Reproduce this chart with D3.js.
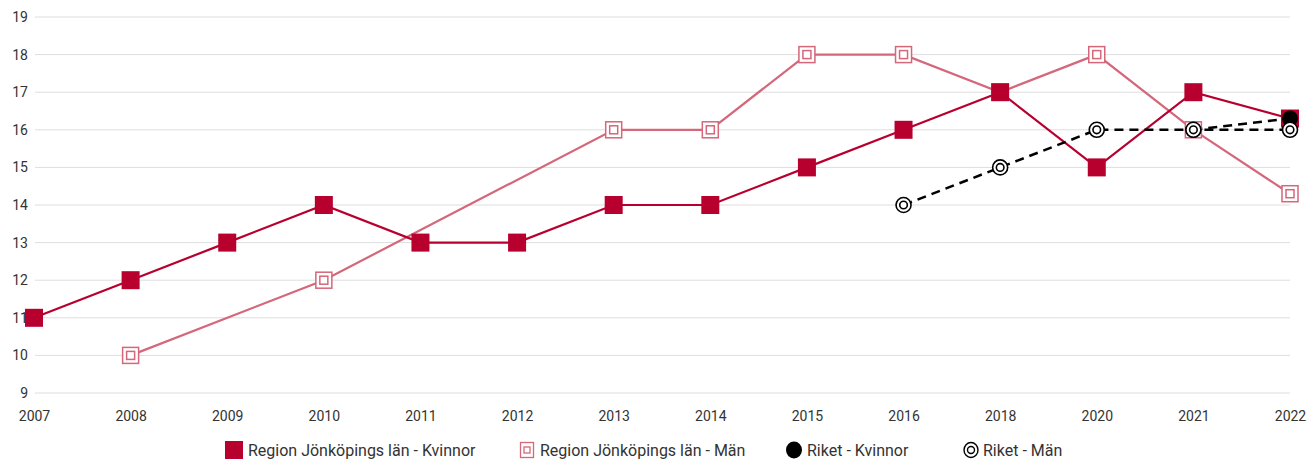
<!DOCTYPE html>
<html>
<head>
<meta charset="utf-8">
<script src="https://cdn.jsdelivr.net/npm/d3@7"></script>
<style>
  body { margin: 0; background: #fff; font-family: Roboto, sans-serif; }
  svg text { fill: #333; }
</style>
</head>
<body>
<div id="chart"></div>
<script>
// kategorier (år) och serier
var years = ['2007', '2008', '2009', '2010', '2011', '2012', '2013', '2014', '2015', '2016', '2018', '2020', '2021', '2022'];
var yTicks = [9, 10, 11, 12, 13, 14, 15, 16, 17, 18, 19];
var regionKvinnor = [11, 12, 13, 14, 13, 13, 14, 14, 15, 16, 17, 15, 17, 16.3];
var regionMan = [null, 10, null, 12, null, null, 16, 16, 18, 18, 17, 18, 16, 14.3];
var riketKvinnor = [null, null, null, null, null, null, null, null, null, null, null, null, 16, 16.3];
var riketMan = [null, null, null, null, null, null, null, null, null, 14, 15, 16, 16, 16];
var seriesNames = ['Region Jönköpings län - Kvinnor', 'Region Jönköpings län - Män', 'Riket - Kvinnor', 'Riket - Män'];

var width = 1307, height = 459;
var colK = '#b8002f', colM = '#d4677a';

var svg = d3.select('#chart').append('svg')
    .attr('width', width)
    .attr('height', height);

var x = d3.scalePoint().domain(years).range([34, 1290]);
var y = d3.scaleLinear().domain([9, 19]).range([393, 17]);

// rutnät
svg.append('g').selectAll('line')
    .data(yTicks)
    .enter().append('line')
    .attr('x1', 35).attr('x2', 1290)
    .attr('y1', d => y(d)).attr('y2', d => y(d))
    .attr('stroke', '#dedede').attr('stroke-width', 1);

// y-axel
var yAxis = svg.append('g')
    .attr('transform', 'translate(35,0)')
    .call(d3.axisLeft(y).tickValues(yTicks).tickSize(0).tickPadding(7));
yAxis.select('.domain').remove();
yAxis.selectAll('text').attr('font-size', 14).attr('font-family', 'Roboto, sans-serif').attr('fill', '#333');

// x-axel
var xAxis = svg.append('g')
    .attr('transform', 'translate(0,393)')
    .call(d3.axisBottom(x).tickSize(0).tickPadding(18));
xAxis.select('.domain').remove();
xAxis.selectAll('text').attr('font-size', 14).attr('font-family', 'Roboto, sans-serif').attr('fill', '#333');

function pts(vals) {
    return years.map((yr, i) => ({ yr: yr, v: vals[i] })).filter(d => d.v != null);
}

var line = d3.line().x(d => x(d.yr)).y(d => y(d.v));

// linjer
svg.append('path').datum(pts(regionMan))
    .attr('d', line).attr('fill', 'none').attr('stroke', colM).attr('stroke-width', 2.2);
svg.append('path').datum(pts(regionKvinnor))
    .attr('d', line).attr('fill', 'none').attr('stroke', colK).attr('stroke-width', 2.2);
svg.append('path').datum(pts(riketKvinnor))
    .attr('d', line).attr('fill', 'none').attr('stroke', '#000').attr('stroke-width', 2.5)
    .attr('stroke-dasharray', '9,6');
svg.append('path').datum(pts(riketMan))
    .attr('d', line).attr('fill', 'none').attr('stroke', '#000').attr('stroke-width', 2.5)
    .attr('stroke-dasharray', '9,6');

// markörer
function squareFilled(g, c) {
    g.append('rect').attr('x', -9).attr('y', -9).attr('width', 18).attr('height', 18)
        .attr('fill', c);
}
function squareOpen(g, c) {
    g.append('rect').attr('x', -8).attr('y', -8).attr('width', 16).attr('height', 16)
        .attr('fill', '#fff').attr('stroke', c).attr('stroke-width', 1.5);
    g.append('rect').attr('x', -4).attr('y', -4).attr('width', 8).attr('height', 8)
        .attr('fill', '#fff').attr('stroke', c).attr('stroke-width', 1.5);
}
function circleFilled(g) {
    g.append('circle').attr('r', 8).attr('fill', '#000');
}
function circleOpen(g) {
    g.append('circle').attr('r', 7.5).attr('fill', '#fff').attr('stroke', '#000').attr('stroke-width', 1.6);
    g.append('circle').attr('r', 3.8).attr('fill', '#fff').attr('stroke', '#000').attr('stroke-width', 1.6);
}

function markers(vals, fn, c) {
    svg.append('g').selectAll('g')
        .data(pts(vals))
        .enter().append('g')
        .attr('transform', d => 'translate(' + x(d.yr) + ',' + y(d.v) + ')')
        .each(function () { fn(d3.select(this), c); });
}
markers(regionMan, squareOpen, colM);
markers(regionKvinnor, squareFilled, colK);
markers(riketKvinnor, circleFilled, '#000');
markers(riketMan, circleOpen, '#000');

// legend
var legendX = [225, 518, 785, 962];
var leg = svg.append('g').attr('transform', 'translate(0,450)');
seriesNames.forEach(function (name, i) {
    var g = leg.append('g').attr('transform', 'translate(' + legendX[i] + ',0)');
    var m = g.append('g').attr('transform', 'translate(9,0)');
    if (i == 0) {
        m.append('rect').attr('x', -9).attr('y', -9).attr('width', 18).attr('height', 18).attr('fill', colK);
    } else if (i == 1) {
        m.append('rect').attr('x', -6.5).attr('y', -7.5).attr('width', 13).attr('height', 15)
            .attr('fill', '#fff').attr('stroke', colM).attr('stroke-width', 1.3);
        m.append('rect').attr('x', -3).attr('y', -3).attr('width', 6).attr('height', 6)
            .attr('fill', '#fff').attr('stroke', colM).attr('stroke-width', 1.3);
    } else if (i == 2) {
        m.append('ellipse').attr('rx', 8).attr('ry', 8.5).attr('fill', '#000');
    } else {
        m.append('ellipse').attr('rx', 7).attr('ry', 7.5).attr('fill', '#fff').attr('stroke', '#000').attr('stroke-width', 1.4);
        m.append('circle').attr('r', 3.5).attr('fill', '#fff').attr('stroke', '#000').attr('stroke-width', 1.4);
    }
    g.append('text')
        .attr('x', [23, 22, 22, 21][i])
        .attr('y', 0)
        .attr('dy', '0.35em')
        .attr('font-size', 16)
        .attr('font-family', 'Roboto, sans-serif')
        .attr('fill', '#222')
        .text(name);
});
</script>
</body>
</html>
